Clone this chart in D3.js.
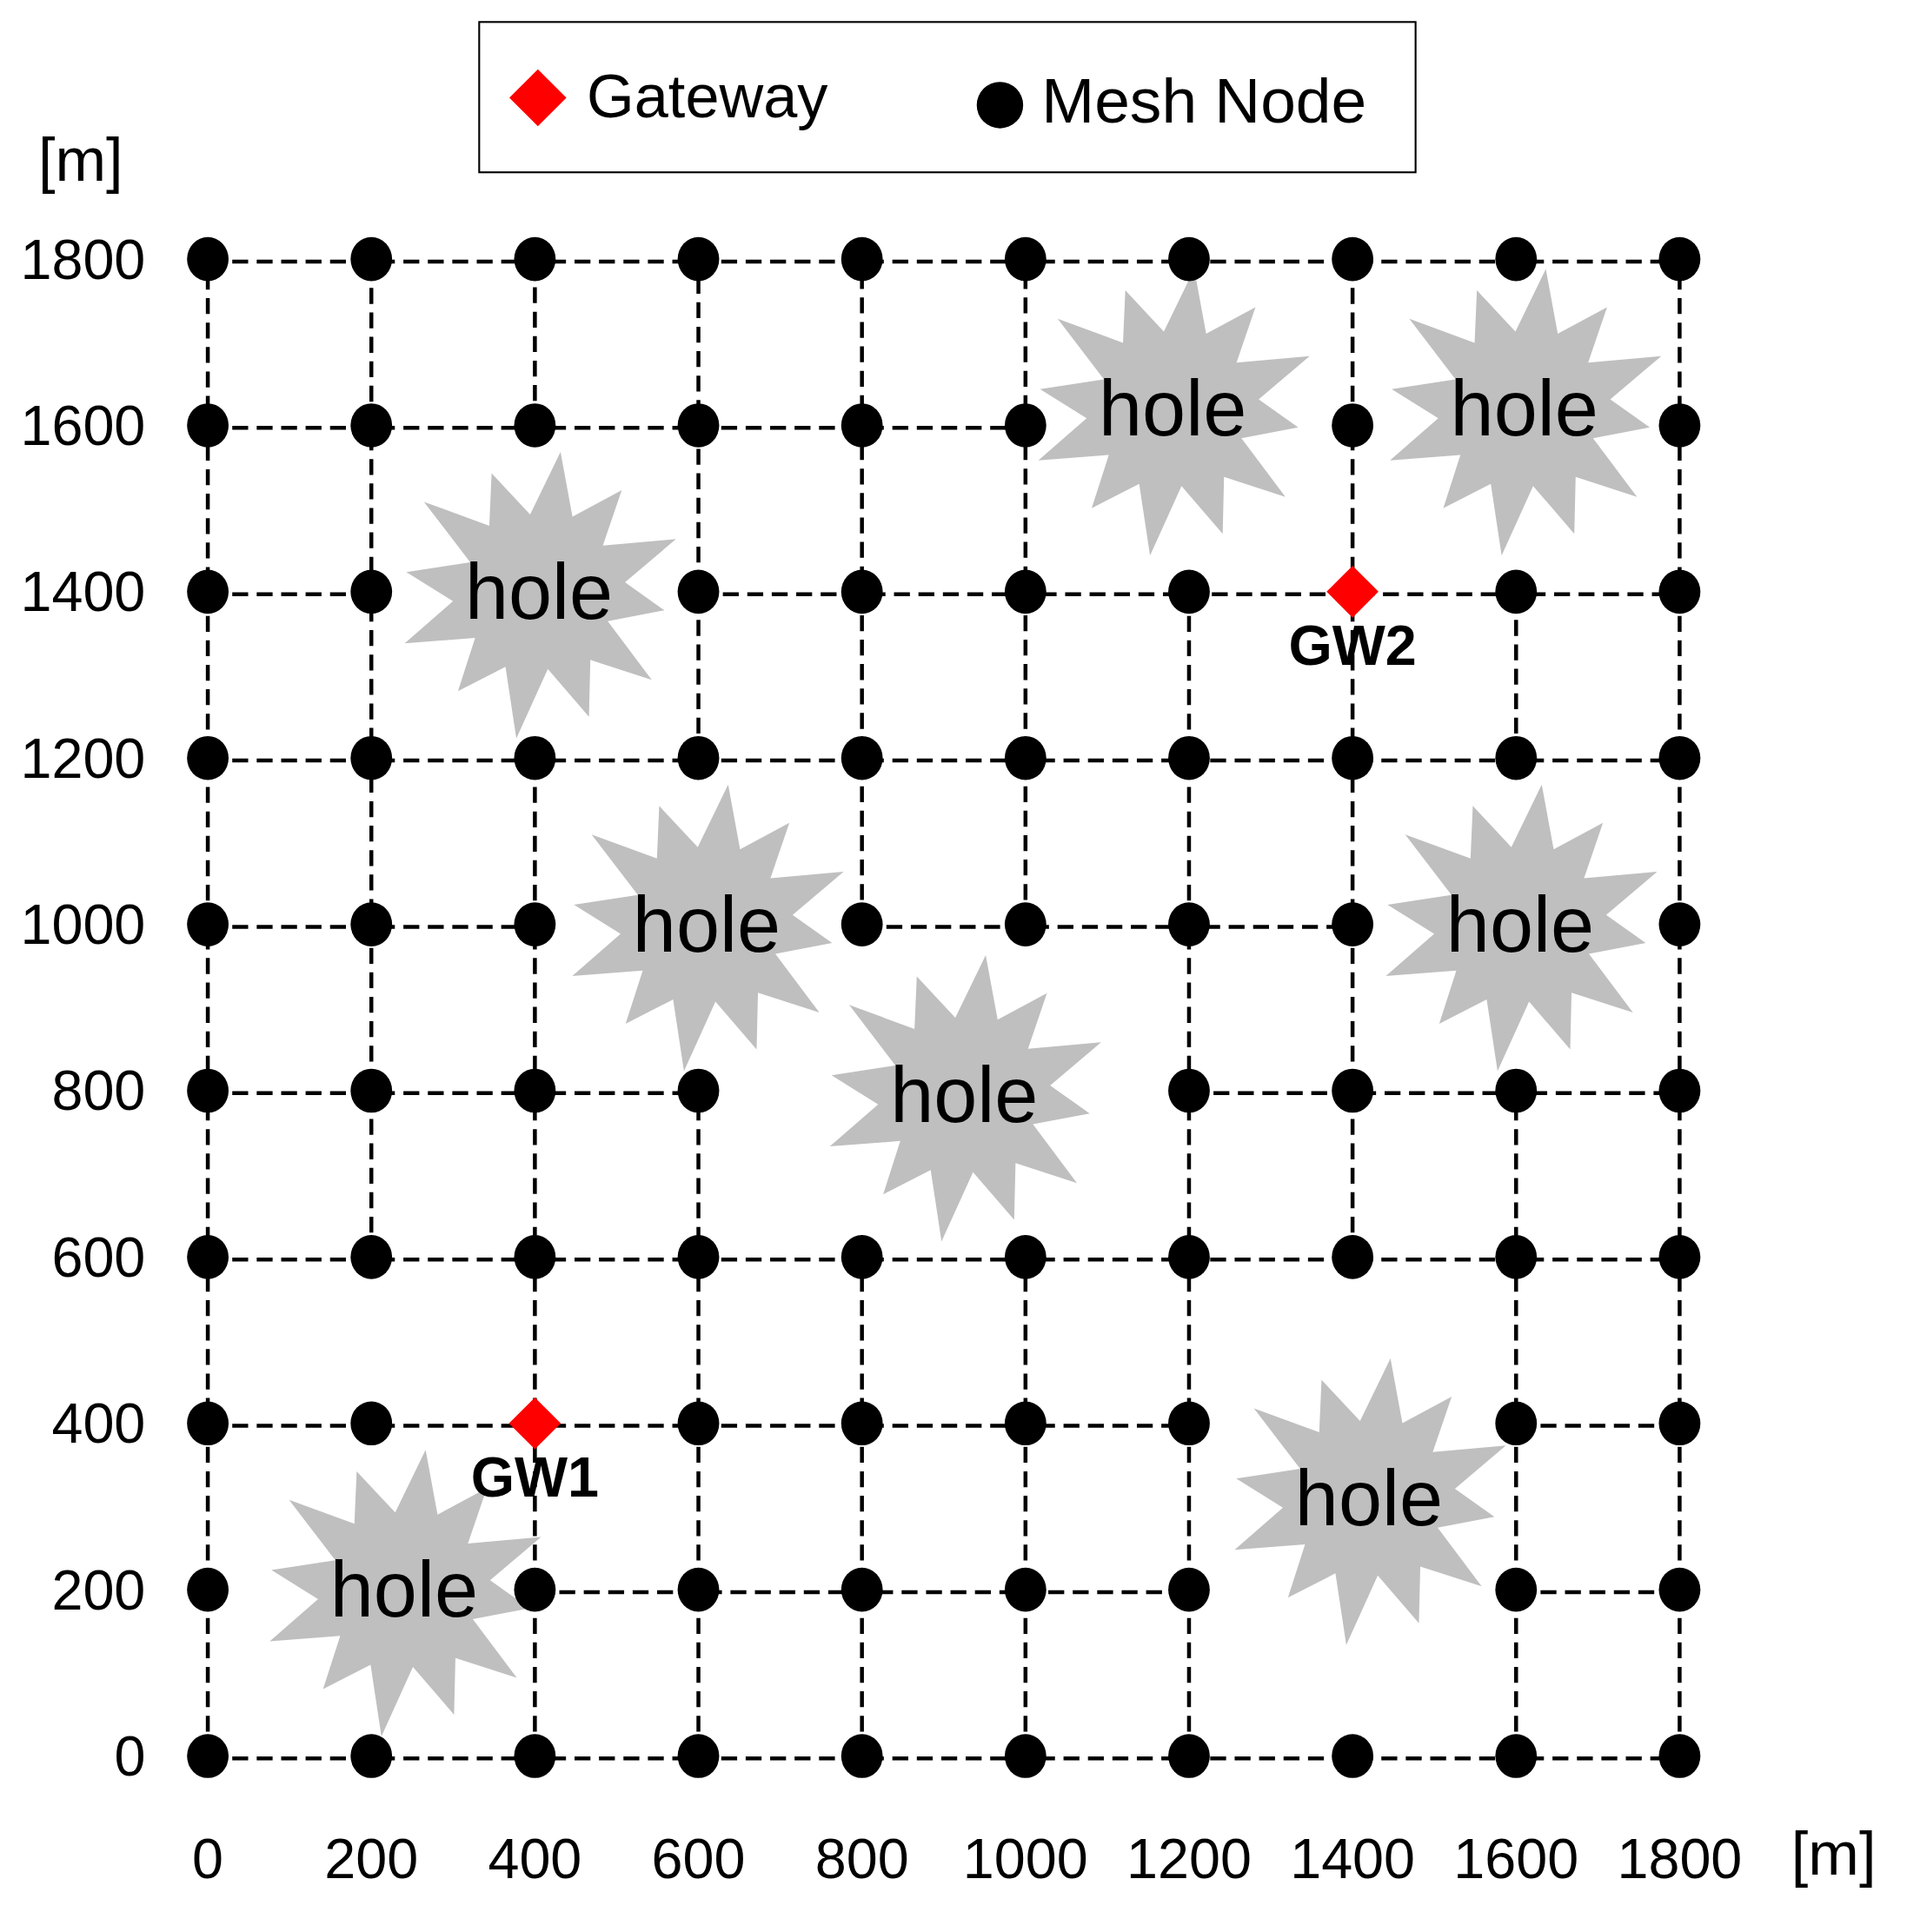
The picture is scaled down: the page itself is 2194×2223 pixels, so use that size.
<!DOCTYPE html>
<html><head><meta charset="utf-8">
<script src="https://cdn.jsdelivr.net/npm/d3@7"></script>
<style>body{margin:0;background:#fff}</style>
</head><body>
<div id="chart"></div>
<script>
// grid values in metres
const ticks = [0, 200, 400, 600, 800, 1000, 1200, 1400, 1600, 1800];
const missingNodes = [[1200,1600],[1600,1600],[400,1400],[600,1000],[1600,1000],
                      [800,800],[1000,800],[1400,400],[200,200],[1400,200]];
const gateways = [{name: 'GW1', x: 400, y: 400}, {name: 'GW2', x: 1400, y: 1400}];
// horizontal links: [y, x from, x to]
const hLinks = [[1800,0,1800],[1600,0,1000],[1400,0,200],[1400,600,1800],[1200,0,1800],
                [1000,0,400],[1000,800,1400],[800,0,600],[800,1200,1800],[600,0,1800],
                [400,0,1200],[400,1600,1800],[200,400,1200],[200,1600,1800],[0,0,1800]];
// vertical links: [x, y from, y to]
const vLinks = [[0,0,1800],[200,600,1800],[400,1600,1800],[400,0,1200],[600,1200,1800],
                [600,0,800],[800,1000,1800],[800,0,600],[1000,1000,1800],[1000,0,600],
                [1200,0,1400],[1400,600,1800],[1600,1200,1400],[1600,0,800],[1800,0,1800]];
const holes = [[1180,1620],[1610,1620],[405,1400],[610,1000],[1605,1000],[925,795],[1420,310],[240,200]];

const W = 1560, H = 1581;
const svg = d3.select('#chart').append('svg')
    .attr('width', 2194).attr('height', 2223)
    .attr('viewBox', `0 0 ${W} ${H}`)
    .attr('preserveAspectRatio', 'none');

const x = d3.scaleLinear().domain([0, 1800]).range([170, 1374]);
const y = d3.scaleLinear().domain([0, 1800]).range([1437, 212]);

// holes (irregular 12-point stars)
const spikes = [1.0, .58, .92, .55, 1.02, .6, .88, .52, 1.0, .6, .95, .55,
                1.05, .58, .9, .55, 1.0, .6, .93, .52, 1.02, .58, .9, .55];
const star = d3.lineRadial().curve(d3.curveLinearClosed);
holes.forEach((h, k) => {
  const pts = spikes.map((s, i) => [i / spikes.length * 2 * Math.PI + 0.15, s * 118]);
  svg.append('path').attr('d', star(pts))
      .attr('transform', `translate(${x(h[0])},${y(h[1])}) scale(1,0.98)`)
      .attr('fill', '#bfbfbf');
});

const dash = sel => sel.attr('stroke', '#000').attr('stroke-width', 3.2).attr('stroke-dasharray', '13 7');
svg.selectAll('.hl').data(hLinks).enter().append('line')
    .attr('x1', d => x(d[1])).attr('x2', d => x(d[2]))
    .attr('y1', d => y(d[0]) + 2).attr('y2', d => y(d[0]) + 2).call(dash);
svg.selectAll('.vl').data(vLinks).enter().append('line')
    .attr('x1', d => x(d[0])).attr('x2', d => x(d[0]))
    .attr('y1', d => y(d[1])).attr('y2', d => y(d[2])).call(dash);

svg.selectAll('.hole-t').data(holes).enter().append('text')
    .attr('x', d => x(d[0])).attr('y', d => y(d[1]) + 22)
    .attr('text-anchor', 'middle').attr('font-family', 'Liberation Sans, Arial')
    .attr('font-size', 64).text('hole');

const isMissing = (a, b) => missingNodes.some(m => m[0] === a && m[1] === b) ||
                            gateways.some(g => g.x === a && g.y === b);
const nodes = [];
ticks.forEach(yy => ticks.forEach(xx => { if (!isMissing(xx, yy)) nodes.push([xx, yy]); }));
svg.selectAll('.node').data(nodes).enter().append('ellipse')
    .attr('cx', d => x(d[0])).attr('cy', d => y(d[1]))
    .attr('rx', 17).attr('ry', 18).attr('fill', '#000');

const diamond = d3.symbol().type(d3.symbolSquare).size(900);
svg.selectAll('.gw').data(gateways).enter().append('path')
    .attr('d', diamond).attr('fill', '#ff0000')
    .attr('transform', d => `translate(${x(d.x)},${y(d.y)}) rotate(45) scale(1.0)`);
svg.selectAll('.gwt').data(gateways).enter().append('text')
    .attr('x', d => x(d.x)).attr('y', d => y(d.y) + 60)
    .attr('text-anchor', 'middle').attr('font-family', 'Liberation Sans, Arial')
    .attr('font-weight', 'bold').attr('font-size', 46).text(d => d.name);

// axes labels
const tickFont = 'Liberation Sans Narrow, Liberation Sans, Arial';
svg.selectAll('.yt').data(ticks).enter().append('text')
    .attr('x', 119).attr('y', d => y(d) + 16).attr('text-anchor', 'end')
    .attr('font-family', tickFont).attr('font-size', 46).text(d => d);
svg.selectAll('.xt').data(ticks).enter().append('text')
    .attr('x', d => x(d)).attr('y', 1537).attr('text-anchor', 'middle')
    .attr('font-family', tickFont).attr('font-size', 46).text(d => d);
svg.append('text').attr('x', 66).attr('y', 148).attr('text-anchor', 'middle')
    .attr('font-family', tickFont).attr('font-size', 50).text('[m]');
svg.append('text').attr('x', 1500).attr('y', 1534).attr('text-anchor', 'middle')
    .attr('font-family', tickFont).attr('font-size', 50).text('[m]');

// legend
const lg = svg.append('g');
lg.append('rect').attr('x', 392).attr('y', 18).attr('width', 766).attr('height', 123)
    .attr('fill', '#fff').attr('stroke', '#000').attr('stroke-width', 1.5);
lg.append('path').attr('d', diamond).attr('fill', '#ff0000')
    .attr('transform', 'translate(440,80) rotate(45) scale(1.1)');
lg.append('text').attr('x', 480).attr('y', 96).attr('font-family', 'Liberation Sans, Arial')
    .attr('font-size', 50).text('Gateway');
lg.append('ellipse').attr('cx', 818).attr('cy', 86).attr('rx', 19).attr('ry', 19).attr('fill', '#000');
lg.append('text').attr('x', 852).attr('y', 100).attr('font-family', 'Liberation Sans, Arial')
    .attr('font-size', 52).text('Mesh Node');
</script>
</body></html>
